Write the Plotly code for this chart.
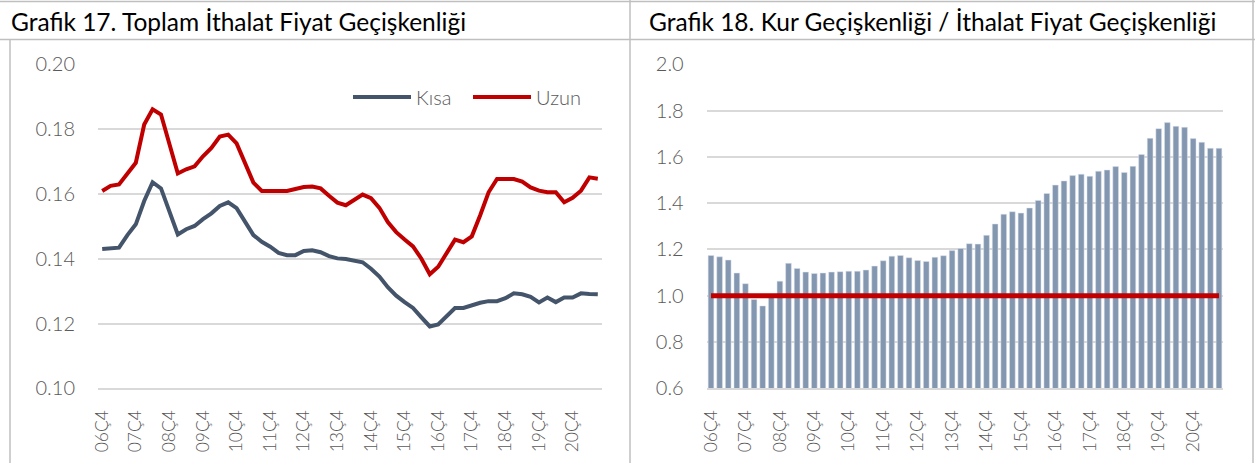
import plotly.graph_objects as go

quarters = [
    "06Ç4",
    "07Ç1", "07Ç2", "07Ç3", "07Ç4", "08Ç1", "08Ç2", "08Ç3", "08Ç4",
    "09Ç1", "09Ç2", "09Ç3", "09Ç4", "10Ç1", "10Ç2", "10Ç3", "10Ç4",
    "11Ç1", "11Ç2", "11Ç3", "11Ç4", "12Ç1", "12Ç2", "12Ç3", "12Ç4",
    "13Ç1", "13Ç2", "13Ç3", "13Ç4", "14Ç1", "14Ç2", "14Ç3", "14Ç4",
    "15Ç1", "15Ç2", "15Ç3", "15Ç4", "16Ç1", "16Ç2", "16Ç3", "16Ç4",
    "17Ç1", "17Ç2", "17Ç3", "17Ç4", "18Ç1", "18Ç2", "18Ç3", "18Ç4",
    "19Ç1", "19Ç2", "19Ç3", "19Ç4", "20Ç1", "20Ç2", "20Ç3", "20Ç4",
    "21Ç1", "21Ç2", "21Ç3",
]
tick_labels = ["06Ç4", "07Ç4", "08Ç4", "09Ç4", "10Ç4", "11Ç4", "12Ç4", "13Ç4",
               "14Ç4", "15Ç4", "16Ç4", "17Ç4", "18Ç4", "19Ç4", "20Ç4"]

# Grafik 17
kisa = [0.1430, 0.1432, 0.1434, 0.1473, 0.1506, 0.1578, 0.1636, 0.1617, 0.1550, 0.1475,
        0.1491, 0.1501, 0.1522, 0.1540, 0.1563, 0.1574, 0.1556, 0.1514, 0.1473, 0.1452,
        0.1437, 0.1418, 0.1411, 0.1411, 0.1424, 0.1426, 0.1420, 0.1408, 0.1401, 0.1399,
        0.1395, 0.1389, 0.1369, 0.1345, 0.1312, 0.1286, 0.1266, 0.1248, 0.1219, 0.1191,
        0.1197, 0.1222, 0.1248, 0.1248, 0.1257, 0.1264, 0.1269, 0.1269, 0.1278, 0.1293,
        0.1290, 0.1282, 0.1265, 0.1280, 0.1266, 0.1280, 0.1280, 0.1293, 0.1291, 0.1290]
uzun = [0.1609, 0.1625, 0.1629, 0.1665, 0.1696, 0.1814, 0.1861, 0.1845, 0.1750, 0.1663,
        0.1676, 0.1685, 0.1716, 0.1742, 0.1777, 0.1783, 0.1756, 0.1694, 0.1635, 0.1609,
        0.1608, 0.1608, 0.1609, 0.1615, 0.1621, 0.1623, 0.1617, 0.1594, 0.1573, 0.1565,
        0.1582, 0.1598, 0.1587, 0.1557, 0.1513, 0.1482, 0.1459, 0.1438, 0.1400, 0.1352,
        0.1375, 0.1416, 0.1459, 0.1451, 0.1469, 0.1534, 0.1605, 0.1646, 0.1646, 0.1646,
        0.1638, 0.1620, 0.1610, 0.1605, 0.1605, 0.1574, 0.1588, 0.1610, 0.1651, 0.1647]

# Grafik 18
oran = [1.174, 1.168, 1.154, 1.098, 1.052, 0.984, 0.956, 0.996, 1.063, 1.140,
        1.118, 1.102, 1.096, 1.098, 1.102, 1.104, 1.106, 1.106, 1.111, 1.128,
        1.151, 1.171, 1.174, 1.164, 1.152, 1.148, 1.166, 1.173, 1.195, 1.204,
        1.225, 1.223, 1.261, 1.310, 1.352, 1.363, 1.357, 1.379, 1.412, 1.442,
        1.478, 1.496, 1.519, 1.525, 1.516, 1.538, 1.543, 1.558, 1.533, 1.559,
        1.610, 1.680, 1.722, 1.748, 1.732, 1.728, 1.679, 1.663, 1.637, 1.637]
esik = 1.0

W, H = 1255, 463
FONT = "Lato"
GRAY = "#595959"
GRID = "#d9d9d9"
BORDER = "#bfbfbf"


def px_x(v):
    return v / W


def px_y(v):
    return 1 - v / H


fig = go.Figure()

fig.add_trace(go.Scatter(x=quarters, y=kisa, name="Kısa", mode="lines",
                         line=dict(color="#44546a", width=4), xaxis="x", yaxis="y"))
fig.add_trace(go.Scatter(x=quarters, y=uzun, name="Uzun", mode="lines",
                         line=dict(color="#c00000", width=4), xaxis="x", yaxis="y"))

fig.add_trace(go.Bar(x=quarters, y=oran, marker=dict(color="#8497b0", line=dict(color="#dde3ec", width=0.5)),
                     showlegend=False, xaxis="x2", yaxis="y2"))
fig.add_trace(go.Scatter(x=[quarters[0], quarters[-1]], y=[esik, esik], mode="lines",
                         line=dict(color="#c00000", width=5), showlegend=False,
                         xaxis="x2", yaxis="y2"))

xcommon = dict(type="category", categoryorder="array", categoryarray=quarters,
               range=[-0.5, len(quarters) - 0.5], tickmode="array", tickvals=tick_labels,
               ticktext=tick_labels, tickangle=-90, showgrid=False, zeroline=False,
               showline=True, linecolor=GRID, linewidth=1.5, ticks="", automargin=False,
               tickfont=dict(family=FONT, size=17.5, color=GRAY, weight=300), ticklabelstandoff=13)
ycommon = dict(showgrid=True, gridcolor=GRID, gridwidth=1.5, zeroline=False, ticks="",
               automargin=False,
               tickfont=dict(family=FONT, size=20, color=GRAY, weight=300), ticklabelstandoff=22)

ydom = [px_y(388.3), px_y(64.3)]
fig.update_layout(
    width=W, height=H,
    margin=dict(l=0, r=0, t=0, b=0, autoexpand=False),
    paper_bgcolor="white", plot_bgcolor="white",
    bargap=0.34,
    xaxis=dict(domain=[px_x(98), px_x(602)], anchor="y", **xcommon),
    yaxis=dict(domain=ydom, anchor="x", range=[0.10, 0.20], dtick=0.02,
               tickformat=".2f", **ycommon),
    xaxis2=dict(domain=[px_x(706.7), px_x(1223.3)], anchor="y2", **xcommon),
    yaxis2=dict(domain=ydom, anchor="x2", range=[0.6, 2.0], dtick=0.2,
                tickformat=".1f", **ycommon),
    legend=dict(orientation="h", x=px_x(588), xanchor="right", y=px_y(97), yanchor="middle",
                font=dict(family=FONT, size=20, color=GRAY, weight=300), itemwidth=58,
                entrywidth=47, bgcolor="rgba(0,0,0,0)"),
    showlegend=True,
)

fig.add_annotation(text="Grafik 17. Toplam İthalat Fiyat Geçişkenliği", xref="paper", yref="paper",
                   x=px_x(9), y=px_y(21), xanchor="left", yanchor="middle", showarrow=False,
                   font=dict(family=FONT, size=24.5, color="#000000"))
fig.add_annotation(text="Grafik 18. Kur Geçişkenliği / İthalat Fiyat Geçişkenliği", xref="paper",
                   yref="paper", x=px_x(647), y=px_y(21), xanchor="left", yanchor="middle",
                   showarrow=False, font=dict(family=FONT, size=24.5, color="#000000"))

# table borders
border = dict(color=BORDER, width=1.5)
fig.add_shape(type="line", xref="paper", yref="paper", x0=0, x1=1, y0=px_y(1.5), y1=px_y(1.5), line=border)
fig.add_shape(type="line", xref="paper", yref="paper", x0=0, x1=1, y0=px_y(39.5), y1=px_y(39.5), line=border)
fig.add_shape(type="line", xref="paper", yref="paper", x0=px_x(10), x1=px_x(10), y0=0, y1=px_y(39.5), line=border)
fig.add_shape(type="line", xref="paper", yref="paper", x0=px_x(630), x1=px_x(630), y0=0, y1=1, line=border)
fig.add_shape(type="line", xref="paper", yref="paper", x0=px_x(1253), x1=px_x(1253), y0=0, y1=1, line=border)

fig.write_html("out.html", config={"displayModeBar": False},
               post_script="document.body.style.margin = '0';")
